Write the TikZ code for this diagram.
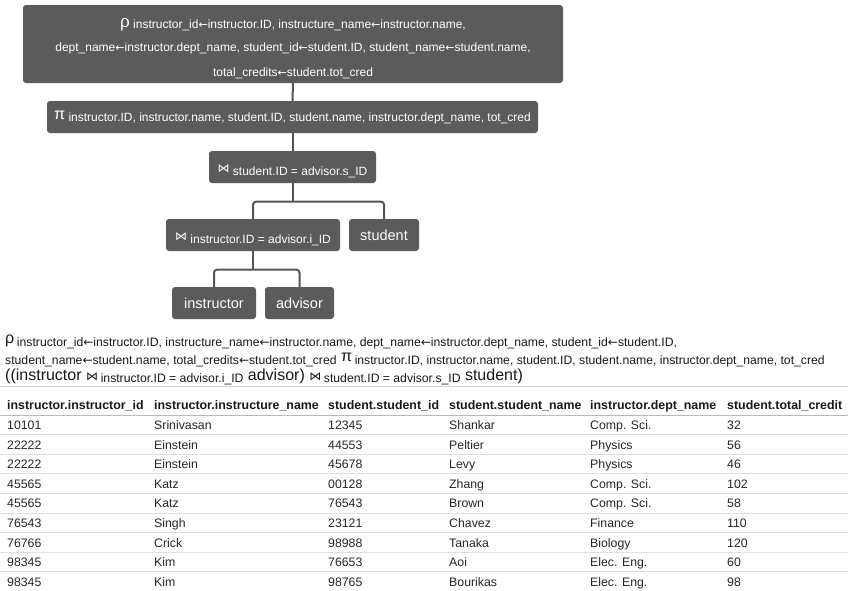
\documentclass[tikz,border=0pt]{standalone}
\usepackage{fontspec}
\setmainfont{Liberation Sans}
\newfontfamily\dv{DejaVu Sans}
\definecolor{boxgray}{HTML}{5B5B5B}
\definecolor{conngray}{HTML}{555555}
% helpers
\newcommand\shiftv[2]{\raisebox{#1}[0pt][0pt]{#2}}
\newcommand\la{{\dv\fontsize{11}{11}\selectfont ←}}
\newcommand\lx{{\dv\fontsize{12}{12}\selectfont ←}}
\newcommand\subx[1]{\raisebox{-3pt}{\fontsize{12.2}{12.2}\selectfont #1}}
\newcommand\joinsym{{\dv\fontsize{12}{12}\selectfont ⋈}}
\tikzset{
  opbox/.style={fill=boxgray, rounded corners=3pt, text=white, inner sep=0pt, align=center,
    font=\fontsize{12}{24.3}\selectfont},
  relbox/.style={opbox, font=\fontsize{14.5}{16}\selectfont},
  conn/.style={draw=conngray, line width=2pt},
  exprtxt/.style={anchor=base west, inner sep=0pt, text=black!90},
  thead/.style={anchor=base west, inner sep=0pt, font=\bfseries\fontsize{12.4}{15}\selectfont, text=black!90},
  tcell/.style={anchor=base west, inner sep=0pt, font=\fontsize{12.3}{15}\selectfont, text=black!85},
}
\begin{document}
\begin{tikzpicture}[x=1pt,y=-1pt]
\useasboundingbox (0,0) rectangle (848,590);
% ---- tree ----
\node[opbox, minimum width=540pt, minimum height=78pt] (rho) at (293,44)
  {\shiftv{16.5pt}{\begin{tabular}[t]{@{}c@{}}
   {\fontsize{17}{17}\selectfont ρ} \raisebox{-1pt}{instructor\_id\la instructor.ID, instructure\_name\la instructor.name,}\\
   dept\_name\la instructor.dept\_name, student\_id\la student.ID, student\_name\la student.name,\\
   total\_credits\la student.tot\_cred
   \end{tabular}}};
\node[opbox, minimum width=491pt, minimum height=32pt] (pi) at (292.5,117)
  {\shiftv{-2pt}{\fontsize{16}{16}\selectfont π}\ \shiftv{-4.5pt}{instructor.ID, instructor.name, student.ID, student.name, instructor.dept\_name, tot\_cred}};
\node[opbox, minimum width=167pt, minimum height=32pt] (j1) at (292.5,167)
  {\shiftv{-5pt}{\joinsym}\ \shiftv{-8pt}{student.ID = advisor.s\_ID}};
\node[opbox, minimum width=174pt, minimum height=32pt] (j2) at (253,235)
  {\shiftv{-5pt}{\joinsym}\ \shiftv{-8pt}{instructor.ID = advisor.i\_ID}};
\node[relbox, minimum width=70pt, minimum height=32pt] (stu) at (384,235) {student};
\node[relbox, minimum width=84pt, minimum height=32pt] (ins) at (214,303) {instructor};
\node[relbox, minimum width=69pt, minimum height=32pt] (adv) at (299.5,303) {advisor};

\draw[conn] (rho.south) -- (pi.north);
\draw[conn] (pi.south) -- (j1.north);
\path (j1.south) ++(0,18.5) coordinate (b1);
\draw[conn] (j1.south) -- (b1);
\draw[conn, rounded corners=3pt] (j2.north) |- (b1) -| (stu.north);
\path (j2.south) ++(0,18.5) coordinate (b2);
\draw[conn] (j2.south) -- (b2);
\draw[conn, rounded corners=3pt] (ins.north) |- (b2) -| (adv.north);

% ---- expression ----
\node[exprtxt] (ex1) at (5,343) {\fontsize{16}{16}\selectfont ρ\,\subx{instructor\_id\lx instructor.ID, instructure\_name\lx instructor.name, dept\_name\lx instructor.dept\_name, student\_id\lx student.ID,}};
\node[exprtxt] (ex2) at (5,361.5) {\fontsize{16}{16}\selectfont \subx{student\_name\lx student.name, total\_credits\lx student.tot\_cred} π\,\subx{instructor.ID, instructor.name, student.ID, student.name, instructor.dept\_name, tot\_cred}};
\node[exprtxt] (ex3) at (5,380) {\fontsize{16}{16}\selectfont ((instructor \joinsym\,\raisebox{-2.5pt}{\fontsize{12.2}{12.2}\selectfont instructor.ID = advisor.i\_ID} advisor) \joinsym\,\raisebox{-2.5pt}{\fontsize{12.2}{12.2}\selectfont student.ID = advisor.s\_ID} student)};

% ---- table ----
\draw[gray!35, line width=1pt] (0,386.5) -- (848,386.5);
\draw[gray!55, line width=1pt] (0,415) -- (848,415);
\foreach \k in {1,...,8} \draw[gray!25, line width=1pt] (0,{415+19.6*\k}) -- (848,{415+19.6*\k});
\node[thead] (h1) at (7,409) {instructor.instructor\_id};
\node[thead] (h2) at (154,409) {instructor.instructure\_name};
\node[thead] (h3) at (328,409) {student.student\_id};
\node[thead] (h4) at (449,409) {student.student\_name};
\node[thead] (h5) at (590,409) {instructor.dept\_name};
\node[thead] (h6) at (727,409) {student.total\_credit};
\foreach \a/\b/\c/\d/\e/\f [count=\i from 0] in {
  10101/Srinivasan/12345/Shankar/Comp. Sci./32,
  22222/Einstein/44553/Peltier/Physics/56,
  22222/Einstein/45678/Levy/Physics/46,
  45565/Katz/00128/Zhang/Comp. Sci./102,
  45565/Katz/76543/Brown/Comp. Sci./58,
  76543/Singh/23121/Chavez/Finance/110,
  76766/Crick/98988/Tanaka/Biology/120,
  98345/Kim/76653/Aoi/Elec. Eng./60,
  98345/Kim/98765/Bourikas/Elec. Eng./98} {
  \node[tcell] (r\i c1) at (7,{429.5+19.6*\i}) {\a};
  \node[tcell] (r\i c2) at (154,{429.5+19.6*\i}) {\b};
  \node[tcell] (r\i c3) at (328,{429.5+19.6*\i}) {\c};
  \node[tcell] (r\i c4) at (449,{429.5+19.6*\i}) {\d};
  \node[tcell] (r\i c5) at (590,{429.5+19.6*\i}) {\e};
  \node[tcell] (r\i c6) at (727,{429.5+19.6*\i}) {\f};
}
\end{tikzpicture}
\end{document}
